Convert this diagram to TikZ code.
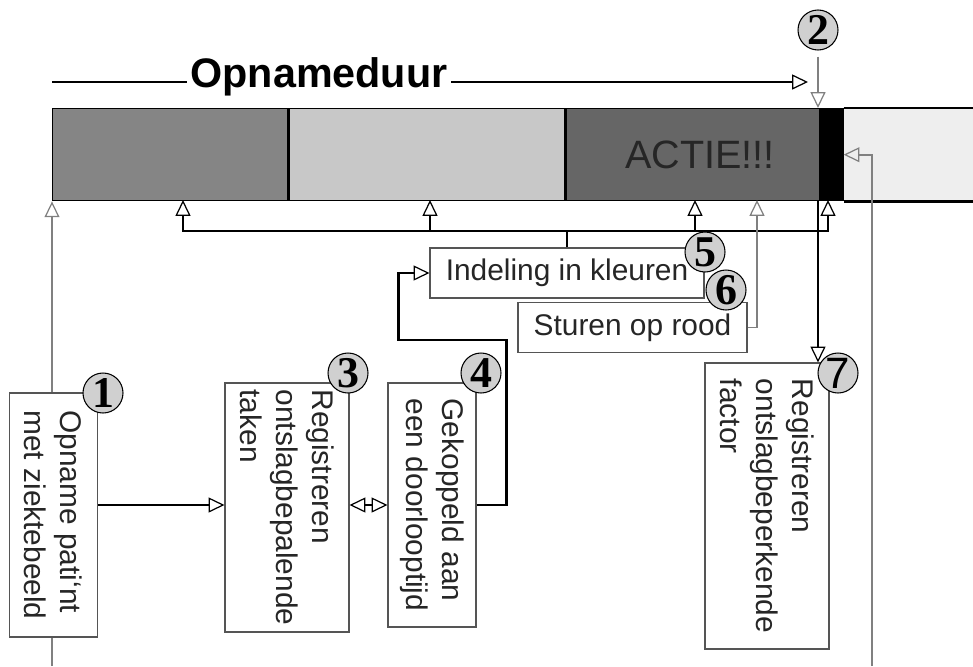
\documentclass[tikz,border=0pt]{standalone}
\usepackage{fontspec}
\setmainfont{Liberation Sans}
\newfontfamily\numfont{Liberation Serif}
\usetikzlibrary{arrows.meta,positioning}
\definecolor{barmid}{RGB}{133,133,133}
\definecolor{barlight}{RGB}{200,200,200}
\definecolor{bardark}{RGB}{102,102,102}
\definecolor{barfade}{RGB}{238,238,238}
\definecolor{numgray}{RGB}{208,208,208}
\definecolor{boxline}{RGB}{85,85,85}
\definecolor{boxtext}{RGB}{38,38,38}
\definecolor{wire}{RGB}{128,128,128}
\newcommand{\boxfont}{\fontsize{17}{20.5}\selectfont}

\begin{document}
\begin{tikzpicture}[x=0.2mm,y=-0.2mm,
  seg/.style={draw=black,line width=0.8pt,minimum height=18.4mm,
              inner sep=0pt,anchor=north west},
  vbox/.style={draw=boxline,fill=white,line width=0.6pt,rotate=-90,
               align=left,font=\boxfont,text=boxtext},
  hbox/.style={draw=boxline,fill=white,line width=0.6pt,
               minimum height=10mm,font=\boxfont,text=boxtext},
  num/.style={circle,draw=black,fill=numgray,line width=0.6pt,
              minimum size=8mm,inner sep=0pt,
              font=\numfont\bfseries\fontsize{25}{25}\selectfont},
  tip/.style={-{Triangle[open,length=9pt,width=8.5pt,line width=0.7pt 0 1]}},
  tips/.style={{Triangle[open,length=9pt,width=8.5pt,line width=0.7pt 0 1]}-{Triangle[open,length=9pt,width=8.5pt,line width=0.7pt 0 1]}},
  blk/.style={tip,line width=1.5pt},
  gry/.style={tip,draw=wire,line width=1pt}
]
\useasboundingbox (0,0) rectangle (973,666);

% balk
\node[seg,fill=barmid,minimum width=47mm] (s1) at (52,108) {};
\node[seg,fill=barlight,minimum width=55.2mm,right=0pt of s1] (s2) {};
\node[seg,fill=bardark,minimum width=50.6mm,right=0pt of s2] (s3) {};
\node[seg,fill=black,minimum width=4.4mm,right=0pt of s3] (s4) {};
\node[seg,draw=none,fill=barfade,minimum width=27mm,right=0pt of s4] (s5) {};
\draw[line width=1.3pt] (s5.north west) -- (s5.north east)
                        (s5.south west) -- (s5.south east);
\node[anchor=base,text=boxtext,font=\fontsize{22.5}{26}\selectfont]
  (actie) at (700,168) {ACTIE!!!};

% opnameduur
\node[anchor=base,inner sep=2pt,font=\bfseries\fontsize{23.5}{27}\selectfont]
  (duur) at (319,87) {Opnameduur};
\coordinate (t0) at (52,82);
\coordinate (t1) at (808,82);
\draw[line width=1pt] (t0) -- (duur.west |- t0);
\draw[tip,line width=1pt] (duur.east |- t1) -- (t1);

% punten op de balk
\foreach \x [count=\i] in {183,430,695,828}
  \coordinate (up\i) at (\x,200);
\coordinate (rood) at (757,200);
\coordinate (stop) at (818,200);
\coordinate (lb) at (52,666);
\coordinate (rb) at (872,666);
\coordinate (fb) at (567,231);

% grijze lijnen achter de vakken
\draw[gry] (lb) -- (s1.south west);
\draw[gry] (rb) |- (s4.east);

% vakken
\node[vbox,minimum width=48.8mm,minimum height=17.6mm] (b1) at (53.5,515)
  {Opname pati‘nt\\met ziektebeeld};
\node[vbox,minimum width=49.8mm,minimum height=24.8mm] (b3) at (287,507.5)
  {Registreren\\ontslagbepalende\\taken};
\node[vbox,minimum width=48.8mm,minimum height=17.6mm] (b4) at (432,505)
  {Gekoppeld aan\\een doorlooptijd};
\node[vbox,minimum width=57.2mm,minimum height=24.8mm] (b7) at (767,506)
  {Registreren\\ontslagbeperkende\\factor};
\node[hbox,minimum width=54.8mm] (ind) at (567,273) {Indeling in kleuren};
\node[hbox,minimum width=45.8mm] (stu) at (632.5,327.5) {Sturen op rood};

% verbindingen
\draw[blk] (b1.north |- b4.north) -- (b3.south |- b4.north);
\draw[line width=1.5pt,tips] (b3.north |- b4.north) -- (b4.south);
\draw[blk] (b4.north) -- ++(30,0) |- ++(-108,-165) |- (ind.west);
\draw[line width=1.5pt] (ind.north) -- (fb);
\foreach \i in {1,...,4}
  \draw[blk] (fb) -| (up\i);
\draw[gry] (stu.east) -| (rood);
\draw[blk] (stop) -- (stop |- b7.west);

% nummers
\node[num] (n1) at (103,393) {1};
\node[num] (n2) at (818,30) {2};
\node[num] (n3) at (348,373) {3};
\node[num] (n4) at (481,373) {4};
\node[num] (n5) at (705,252) {5};
\node[num] (n6) at (726,290) {6};
\node[num,font=\fontsize{25}{25}\selectfont] (n7) at (838,373) {7};
\draw[gry,shorten <=1.2mm] (n2) -- (n2 |- s4.north);
\end{tikzpicture}
\end{document}
